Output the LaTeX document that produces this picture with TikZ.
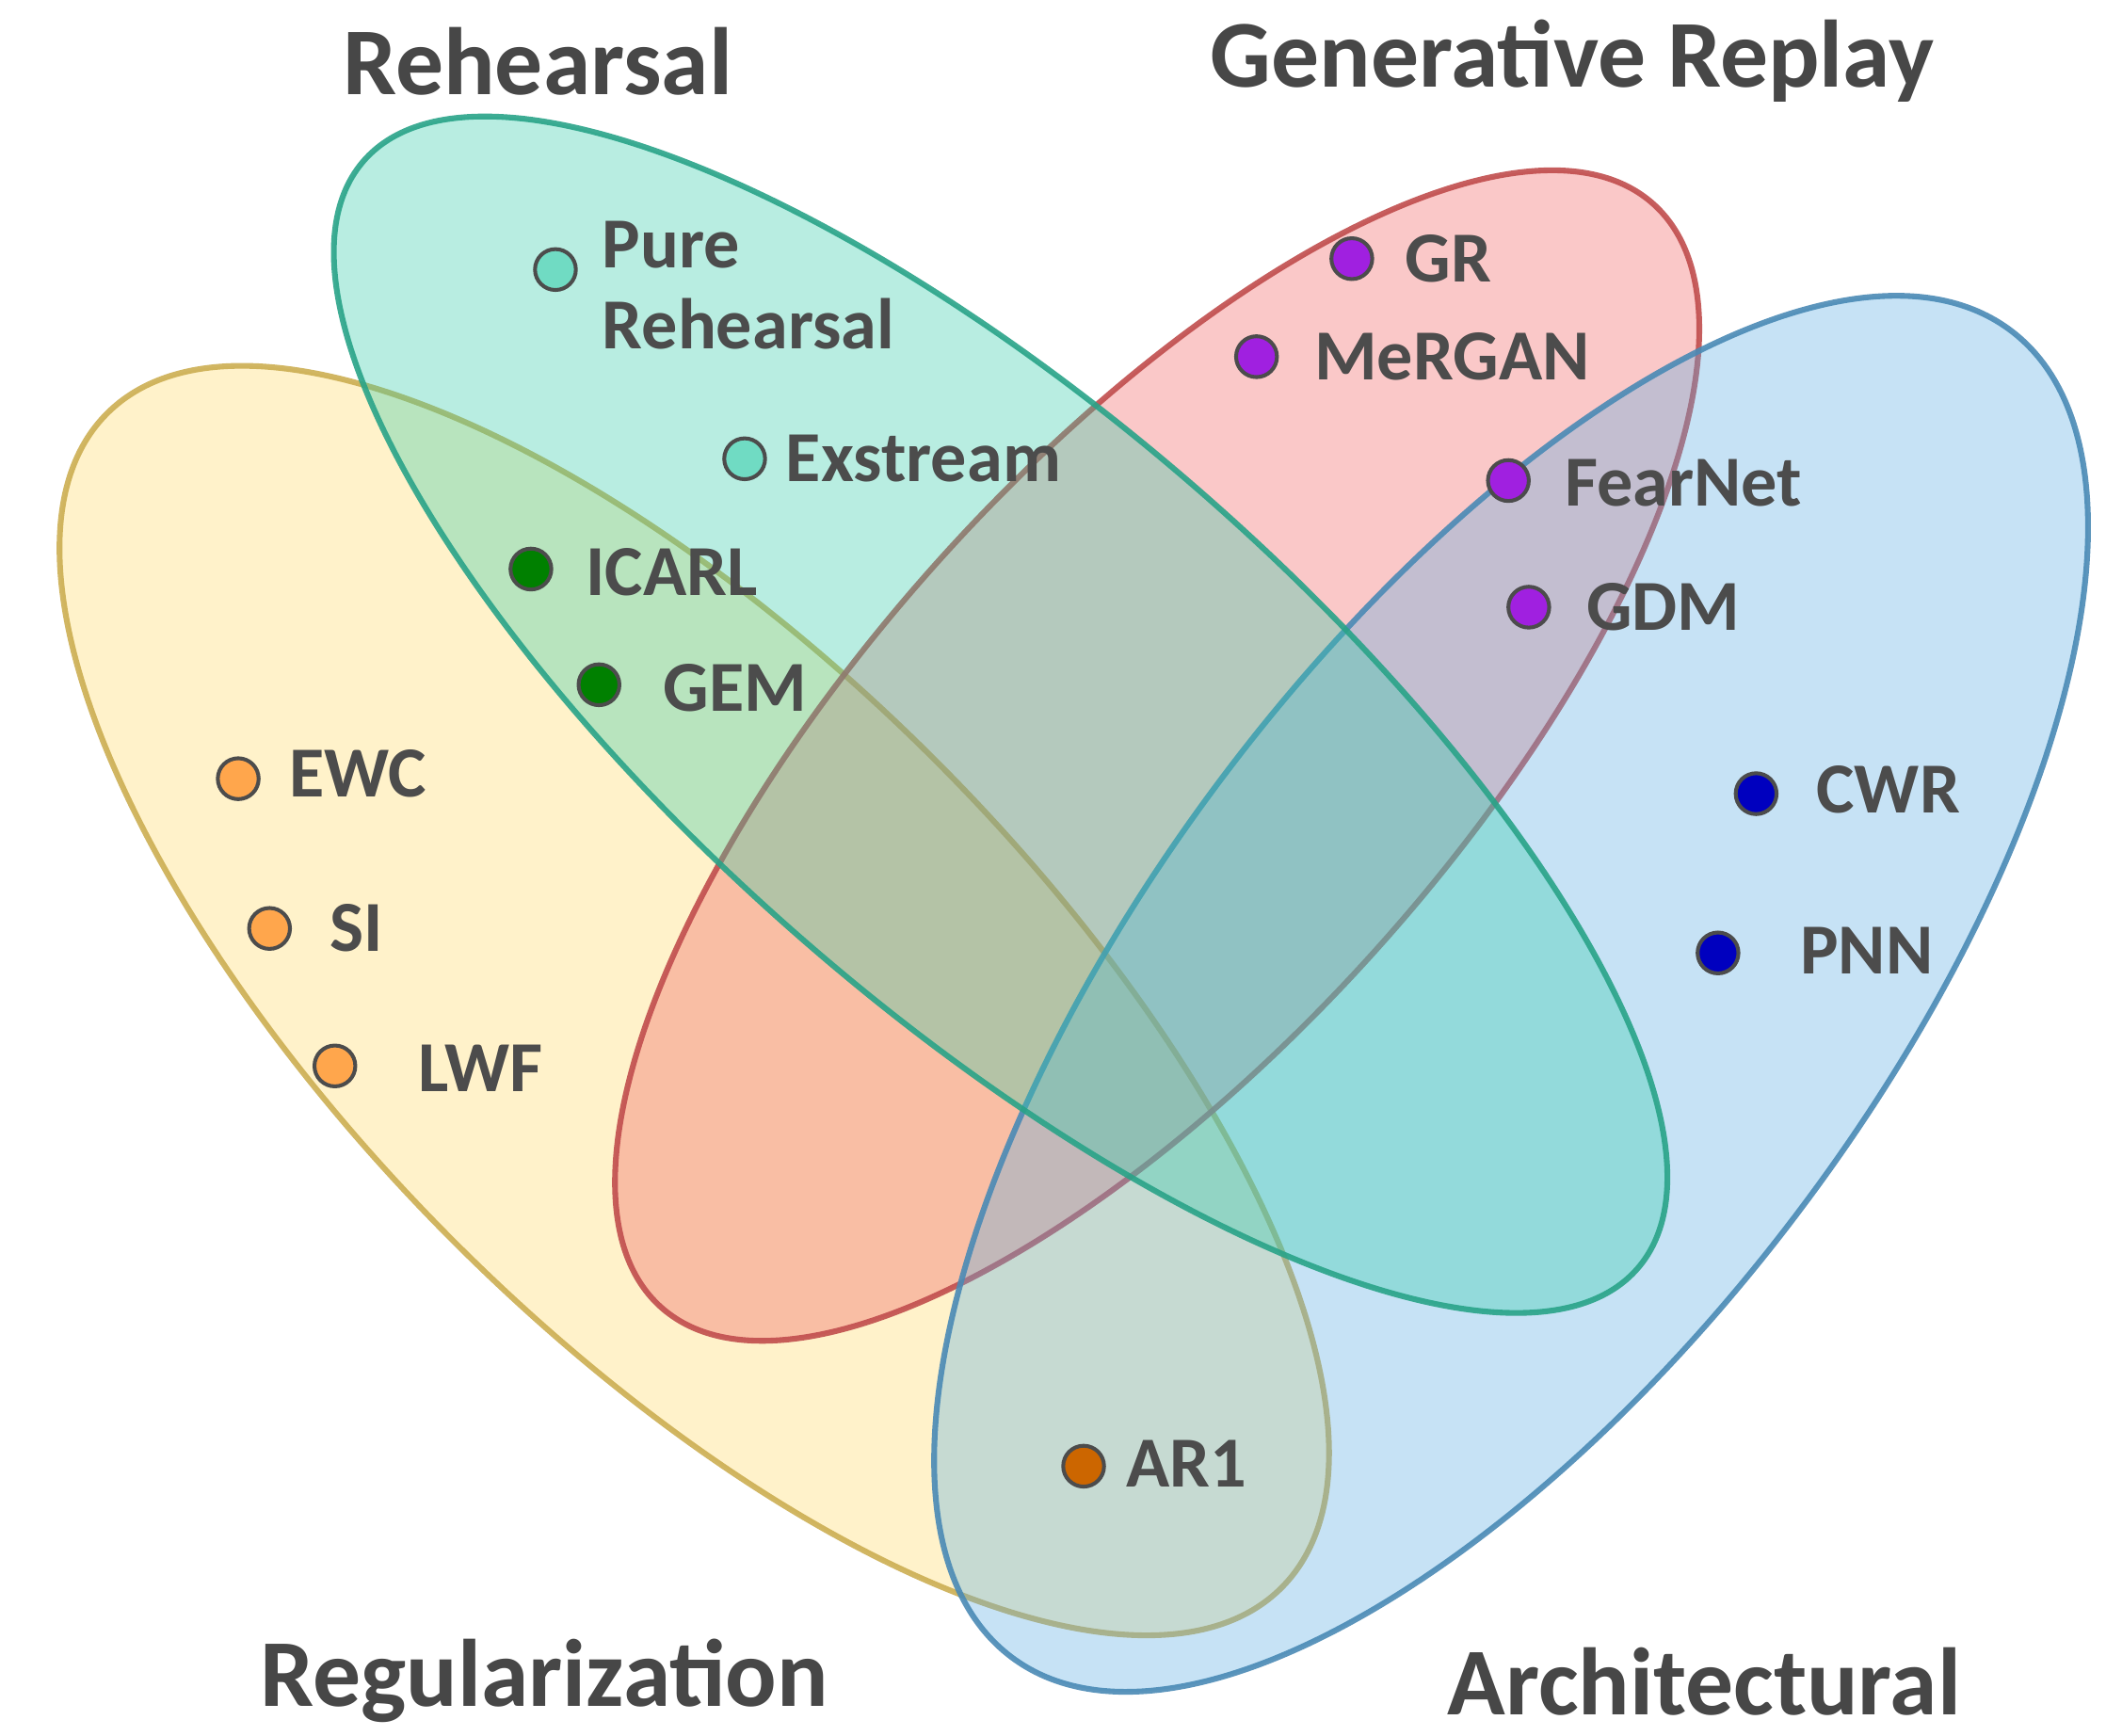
\documentclass[tikz,border=0pt]{standalone}
\usepackage{fontspec}
\setmainfont{Carlito}
\begin{document}
\begin{tikzpicture}[x=0.01cm,y=-0.01cm,
  set/.style={line width=1.2pt,fill opacity=0.35,draw opacity=0.9},
  dot/.style={circle,draw=black!70,line width=0.8pt,inner sep=0pt,minimum size=0.3cm},
  lab/.style={font=\fontsize{15}{17}\selectfont\bfseries,text=black!70,anchor=west},
  title/.style={font=\fontsize{20}{23}\selectfont\bfseries,text=black!72}]
\useasboundingbox (0,0) rectangle (1547,1275);
\definecolor{cy}{HTML}{FFD966}\definecolor{ct}{HTML}{33CCAA}
\definecolor{cr}{HTML}{F06060}\definecolor{cb}{HTML}{5DADE2}
\definecolor{cp}{HTML}{A020E0}
\fill[set,fill=cy,draw=cy!80!black] (510,735) ellipse [x radius=610,y radius=250,rotate=-45];
\fill[set,fill=cr,draw=cr!80!black] (850,555) ellipse [x radius=545,y radius=215,rotate=48];
\fill[set,fill=cb,draw=cb!80!black] (1110,730) ellipse [x radius=610,y radius=265,rotate=53];
\fill[set,fill=ct,draw=ct!80!black] (735,525) ellipse [x radius=620,y radius=220,rotate=-41];
\node[title] (t1) at (395,45) {Rehearsal};
\node[title] (t2) at (1155,45) {Generative Replay};
\node[title] (t3) at (400,1235) {Regularization};
\node[title] (t4) at (1252,1235) {Architectural};
\node[dot,fill=ct!70] (d1) at (408,198) {}; \node[lab,align=left,anchor=north west] (l1) at (430,150) {Pure\\Rehearsal};
\node[dot,fill=ct!70] (d2) at (547,337) {}; \node[lab] (l2) at (565,337) {Exstream};
\node[dot,fill=green!50!black] (d3) at (390,418) {}; \node[lab] (l3) at (418,420) {ICARL};
\node[dot,fill=green!50!black] (d4) at (440,503) {}; \node[lab] (l4) at (475,505) {GEM};
\node[dot,fill=orange!70] (d5) at (175,572) {}; \node[lab] (l5) at (200,568) {EWC};
\node[dot,fill=orange!70] (d6) at (198,682) {}; \node[lab] (l6) at (230,682) {SI};
\node[dot,fill=orange!70] (d7) at (246,783) {}; \node[lab] (l7) at (295,785) {LWF};
\node[dot,fill=orange!80!black] (d8) at (796,1077) {}; \node[lab] (l8) at (815,1075) {AR1};
\node[dot,fill=cp] (d9) at (993,190) {}; \node[lab] (l9) at (1020,190) {GR};
\node[dot,fill=cp] (d10) at (923,262) {}; \node[lab] (l10) at (953,262) {MeRGAN};
\node[dot,fill=cp] (d11) at (1108,353) {}; \node[lab] (l11) at (1137,355) {FearNet};
\node[dot,fill=cp] (d12) at (1123,446) {}; \node[lab] (l12) at (1153,446) {GDM};
\node[dot,fill=blue!75!black] (d13) at (1290,583) {}; \node[lab] (l13) at (1322,580) {CWR};
\node[dot,fill=blue!75!black] (d14) at (1262,700) {}; \node[lab] (l14) at (1310,698) {PNN};
\end{tikzpicture}
\end{document}
